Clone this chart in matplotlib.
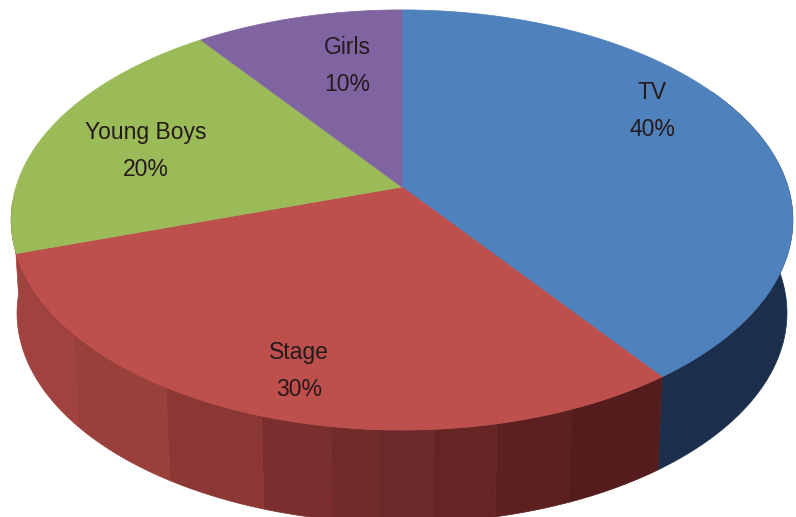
import numpy as np
import matplotlib
matplotlib.use("Agg")
import matplotlib.pyplot as plt
from matplotlib.patches import Polygon

categories = ["TV", "Stage", "Young Boys", "Girls"]
shares = [40, 30, 20, 10]
top_colors = ["#4F81BD", "#BD4F4C", "#9BBB59", "#8064A2"]
label_xy = [(652, 111), (299, 371), (146, 151), (347, 66)]

# side wall shading: (start angle, end angle, colour), clockwise from the top of the pie
side_bands = [
    (60, 144, "#1B2F4D"),
    (144, 158, "#541C1C"),
    (158, 168, "#5C2020"),
    (168, 176, "#662424"),
    (176, 183, "#6B2A2A"),
    (183, 189, "#722B2B"),
    (189, 198, "#7A2E2E"),
    (198, 212, "#8B3835"),
    (212, 230, "#9A403B"),
    (230, 266, "#A04340"),
]

CX, CY, A, B, K = 402.0, 187.0, 386.0, 204.9, 0.157
DEPTH, SHRINK = 93.0, 0.985


def project(deg):
    t = np.radians(deg)
    den = 1 + K * np.cos(t)
    return CX + A * np.sin(t) / den, CY - B * np.cos(t) / den


fig = plt.figure(figsize=(7.96, 5.17), dpi=100, facecolor="white")
ax = fig.add_axes([0, 0, 1, 1])
ax.set_xlim(0, 796)
ax.set_ylim(517, 0)
ax.axis("off")

for start, end, col in side_bands:
    th = np.linspace(start, end, 60)
    x, y = project(th)
    xb = CX + SHRINK * (x - CX)
    yb = y + DEPTH
    pts = np.r_[np.c_[x, y], np.c_[xb, yb][::-1]]
    ax.add_patch(Polygon(pts, closed=True, fc=col, ec=col, lw=0.5, zorder=1))

edges = np.cumsum([0] + shares) / sum(shares) * 360
for i, col in enumerate(top_colors):
    th = np.linspace(edges[i], edges[i + 1], 150)
    x, y = project(th)
    pts = np.r_[[[CX, CY]], np.c_[x, y]]
    ax.add_patch(Polygon(pts, closed=True, fc=col, ec=col, lw=0.5, zorder=2))

for name, share, (tx, ty) in zip(categories, shares, label_xy):
    ax.text(tx, ty, f"{name}\n{share}%", ha="center", va="center", fontsize=16.5,
            family="Liberation Sans", color="#241a1a", linespacing=1.8, zorder=3)

fig.savefig("out.png", dpi=100)
